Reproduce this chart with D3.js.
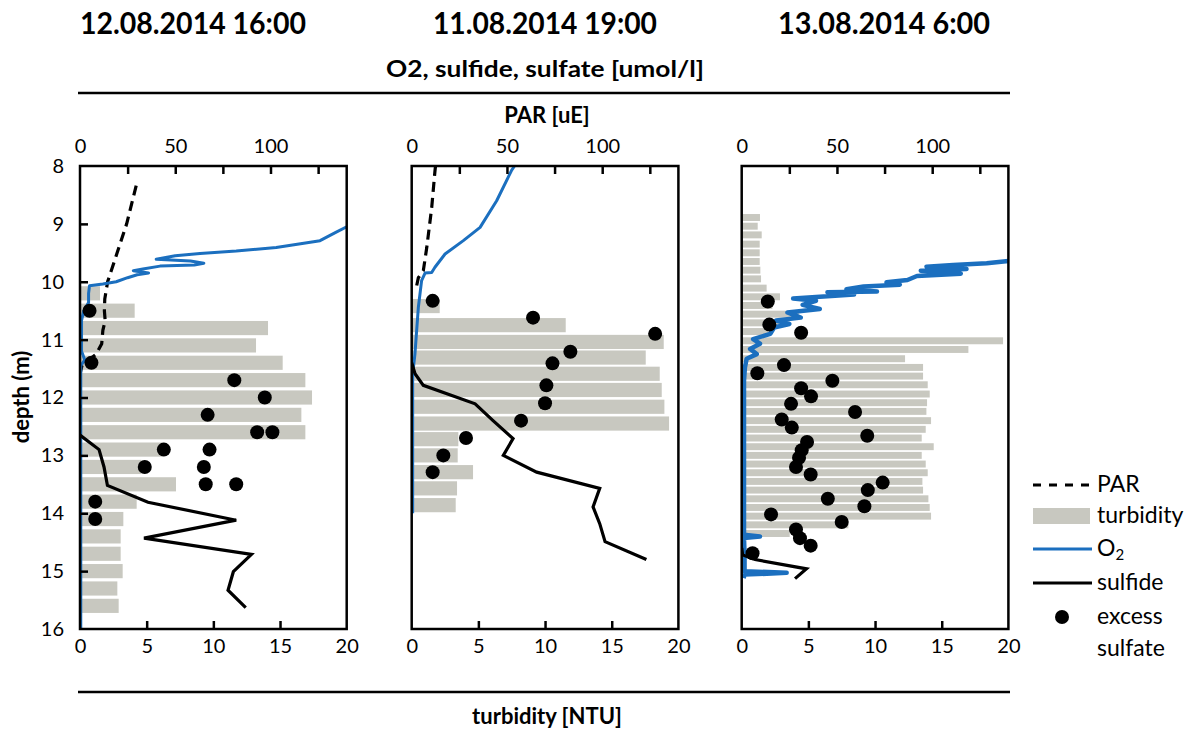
<!DOCTYPE html>
<html><head><meta charset="utf-8">
<script src="https://cdn.jsdelivr.net/npm/d3@7"></script>
<style>
body{margin:0;background:#fff}
svg{display:block}
text{font-family:Lato,"Noto Sans",sans-serif;fill:#000}
</style>
</head><body>
<svg id="c" width="1200" height="729"></svg>
<script>
// ---------- DATA ----------
const titles = ["12.08.2014 16:00", "11.08.2014 19:00", "13.08.2014 6:00"];
const depthTicks = [8, 9, 10, 11, 12, 13, 14, 15, 16];
const topTickLabels = [0, 50, 100];
const topMinorTicks = [25, 50, 75, 100, 125];
const bottomTickLabels = [0, 5, 10, 15, 20];
const bottomMinorTicks = [5, 10, 15];

// panel 1: 12.08.2014 16:00  (depth m, value)
const turb1 = [[10.2,1.5],[10.5,4.1],[10.8,14.1],[11.1,13.2],[11.4,15.2],[11.7,16.9],[12.0,17.4],[12.3,16.6],[12.6,16.9],[12.9,6.2],[13.2,4.6],[13.5,7.2],[13.8,4.25],[14.1,3.25],[14.4,3.05],[14.7,3.05],[15.0,3.2],[15.3,2.8],[15.6,2.9]];
const par1 = [[8.34,29.5],[9.0,24.5],[9.5,19.5],[10.0,14.5],[10.3,13],[10.5,12.8],[10.67,13.2],[10.84,12],[11.07,11.4],[11.25,8.5],[11.45,1],[11.6,0],[12.6,0]];
const o2_1 = [[9.05,140],[9.15,134],[9.29,126],[9.41,103],[9.47,82],[9.51,63],[9.55,50],[9.61,40],[9.64,58],[9.68,65],[9.71,60],[9.73,42],[9.78,33],[9.81,28],[9.85,36],[9.88,30],[9.93,25],[10.0,19],[10.04,12],[10.07,5],[10.2,4.5],[10.36,4.5],[10.5,2],[10.67,0.8],[11.2,0.8],[11.35,2.5],[11.45,0.4],[16,0.4]];
const sulfide1 = [[12.65,0],[12.9,10],[13.2,12.6],[13.52,14.4],[13.81,35.7],[14.12,82],[14.43,33.6],[14.71,90],[15.01,80.5],[15.33,77.7],[15.63,87]];
const sulfate1 = [[10.5,5],[11.4,6],[11.7,81],[12.0,97],[12.3,67],[12.6,93],[12.6,101],[12.9,44],[12.9,68],[13.2,34],[13.2,65],[13.5,66],[13.5,82],[13.8,8],[14.1,8]];

// panel 2: 11.08.2014 19:00
const turb2 = [[10.42,2.1],[10.75,11.55],[11.04,18.9],[11.31,17.55],[11.59,18.6],[11.87,18.75],[12.16,18.95],[12.45,19.3],[12.72,3.5],[13.0,3.45],[13.29,4.6],[13.57,3.4],[13.86,3.3]];
const par2 = [[8.0,12.5],[8.09,12.2],[8.72,10.5],[9.41,7.9],[9.81,6.1],[9.93,3.5],[10.07,2.6],[10.12,2.3]];
const o2_2 = [[8.0,54],[8.07,52.5],[8.6,44.6],[9.06,35.9],[9.29,27.1],[9.52,17.5],[9.75,12.2],[9.84,10.5],[9.85,7],[9.98,5.2],[10.44,3.5],[11.25,1.7],[11.6,0.5],[14.0,0.5]];
const sulfide2 = [[11.4,0],[11.59,1.75],[11.79,6.1],[12.11,33.3],[12.4,42.7],[12.71,53.2],[13.0,48.1],[13.29,65.6],[13.57,98.7],[13.89,95.2],[14.18,98.7],[14.49,101.5],[14.8,123.2]];
const sulfate2 = [[10.33,11],[10.62,63.7],[10.9,127.8],[11.21,83.3],[11.41,73.9],[11.79,70.7],[12.1,70],[12.4,57.4],[12.7,28.5],[13.0,16.6],[13.29,11]];

// panel 3: 13.08.2014 6:00
const turb3 = [[8.89,1.37],[9.04,1.2],[9.19,1.5],[9.35,1.35],[9.50,1.35],[9.65,1.35],[9.80,1.4],[9.95,1.45],[10.11,1.87],[10.26,2.87],[10.41,2.3],[10.56,4.3],[10.71,3.47],[10.86,2.0],[11.02,19.6],[11.17,17.0],[11.33,12.25],[11.48,13.6],[11.63,13.6],[11.78,13.95],[11.94,14.1],[12.09,13.9],[12.24,13.85],[12.40,14.2],[12.55,13.8],[12.70,13.5],[12.85,14.4],[13.00,13.5],[13.15,13.8],[13.30,13.95],[13.45,13.55],[13.60,13.6],[13.75,14.0],[13.90,14.1],[14.05,14.2],[14.20,8.0],[14.35,3.6]];
const par3 = [];
const o2_3 = [[9.64,140],[9.68,128.6],[9.71,111],[9.74,97],[9.78,118],[9.81,94],[9.86,115],[9.9,92],[9.97,87],[10.01,76],[10.05,83],[10.08,64],[10.13,55],[10.17,71],[10.18,45],[10.22,59],[10.26,41],[10.29,27],[10.33,39],[10.4,32],[10.47,41],[10.53,24],[10.62,31],[10.67,18],[10.73,25],[10.79,17],[10.9,15],[10.99,6],[11.07,9.6],[11.16,4.4],[11.25,7.9],[11.33,2.6],[11.48,1.7],[11.71,1.2],[14.37,1.2],[14.4,9.6],[14.43,1.2],[14.7,1.5],[15.0,1.5],[15.03,23.6],[15.06,1.5],[15.12,1]];
const sulfide3 = [[14.6,0],[14.72,0.5],[14.8,7],[14.96,34],[15.13,28]];
const sulfate3 = [[10.34,13.7],[10.74,14.5],[10.88,31.2],[11.44,22.2],[11.58,8.2],[11.71,47.6],[11.84,31.2],[11.98,36.4],[12.11,25.9],[12.25,59.5],[12.38,21],[12.52,26.3],[12.66,65.9],[12.77,34.3],[12.91,31.5],[13.04,30.1],[13.2,28.5],[13.33,36.2],[13.47,74],[13.6,66.2],[13.75,45.2],[13.88,64.4],[14.02,15.4],[14.15,52.5],[14.28,28.5],[14.43,30.6],[14.56,36.2],[14.69,5.7]];

const legendItems = ["PAR", "turbidity", "O2", "sulfide", "excess", "sulfate"];

// ---------- DRAW ----------
const panels = [
  {turb: turb1, par: par1, o2: o2_1, sulfide: sulfide1, sulfate: sulfate1, bh: 0.245, o2w: 3},
  {turb: turb2, par: par2, o2: o2_2, sulfide: sulfide2, sulfate: sulfate2, bh: 0.245, o2w: 3},
  {turb: turb3, par: par3, o2: o2_3, sulfide: sulfide3, sulfate: sulfate3, bh: 0.12, o2w: 4.5}
];
const panelX = [80, 411.7, 741.7];
const titleX = [193, 545, 884];
const titleLen = [226, 224, 212];
const PW = 266.7, PT = 166, PB = 629;
const BLUE = "#1b6fbf", GREY = "#c8c8c0";

const svg = d3.select("#c");
const y = d3.scaleLinear().domain([8, 16]).range([PT, PB]);

panels.forEach((p, i) => {
  const x0 = panelX[i];
  const xT = d3.scaleLinear().domain([0, 140]).range([x0, x0 + PW]);
  const xB = d3.scaleLinear().domain([0, 20]).range([x0, x0 + PW]);
  const g = svg.append("g");

  g.append("clipPath").attr("id", "clip" + i).append("rect")
    .attr("x", x0).attr("y", PT).attr("width", PW).attr("height", PB - PT);

  const inner = g.append("g").attr("clip-path", `url(#clip${i})`);

  inner.selectAll("rect.bar").data(p.turb).join("rect").attr("class", "bar")
    .attr("x", x0)
    .attr("y", d => y(d[0] - p.bh / 2))
    .attr("width", d => xB(d[1]) - x0)
    .attr("height", d => y(d[0] + p.bh / 2) - y(d[0] - p.bh / 2))
    .attr("fill", GREY);

  const line = d3.line().x(d => xT(d[1])).y(d => y(d[0]));
  if (p.par.length)
    inner.append("path").attr("d", line(p.par)).attr("fill", "none")
      .attr("stroke", "#000").attr("stroke-width", 3.2).attr("stroke-dasharray", "10,6");
  inner.append("path").attr("d", line(p.o2)).attr("fill", "none")
    .attr("stroke", BLUE).attr("stroke-width", p.o2w).attr("stroke-linejoin", "round");
  inner.append("path").attr("d", line(p.sulfide)).attr("fill", "none")
    .attr("stroke", "#000").attr("stroke-width", 3.2).attr("stroke-linejoin", "miter");

  inner.selectAll("circle").data(p.sulfate).join("circle")
    .attr("cx", d => xT(d[1])).attr("cy", d => y(d[0])).attr("r", 7).attr("fill", "#000");

  // frame
  g.append("rect").attr("x", x0).attr("y", PT).attr("width", PW).attr("height", PB - PT)
    .attr("fill", "none").attr("stroke", "#000").attr("stroke-width", 2.5);

  // top axis ticks (inward) and labels
  const topTicks = g.append("g").attr("transform", `translate(0,${PT})`)
    .call(d3.axisTop(xT).tickValues(topMinorTicks).tickSize(-8).tickFormat(""));
  const topLab = g.append("g").attr("transform", `translate(0,${PT})`)
    .call(d3.axisTop(xT).tickValues(topTickLabels).tickSize(0).tickPadding(13));
  const botTicks = g.append("g").attr("transform", `translate(0,${PB})`)
    .call(d3.axisBottom(xB).tickValues(bottomMinorTicks).tickSize(-8).tickFormat(""));
  const botLab = g.append("g").attr("transform", `translate(0,${PB})`)
    .call(d3.axisBottom(xB).tickValues(bottomTickLabels).tickSize(0).tickPadding(10));
  [topTicks, topLab, botTicks, botLab].forEach(a => {
    a.select(".domain").remove();
    a.selectAll("line").attr("stroke", "#000").attr("stroke-width", 2.5);
    a.selectAll("text").attr("font-size", 20).attr("font-family", "Lato").attr("fill", "#000");
  });

  if (i === 0) {
    const lt = g.append("g").attr("transform", `translate(${x0},0)`)
      .call(d3.axisLeft(y).tickValues(depthTicks.slice(1, -1)).tickSize(-8).tickFormat(""));
    const ll = g.append("g").attr("transform", `translate(${x0},0)`)
      .call(d3.axisLeft(y).tickValues(depthTicks).tickSize(0).tickPadding(16));
    [lt, ll].forEach(a => {
      a.select(".domain").remove();
      a.selectAll("line").attr("stroke", "#000").attr("stroke-width", 2.5);
      a.selectAll("text").attr("font-size", 20).attr("font-family", "Lato").attr("fill", "#000");
    });
  }

  // title
  svg.append("text").attr("x", titleX[i]).attr("y", 34)
    .attr("text-anchor", "middle").attr("font-size", 30).attr("font-weight", "bold")
    .attr("textLength", titleLen[i]).attr("lengthAdjust", "spacingAndGlyphs")
    .text(titles[i]);
});

// header / footer
svg.append("text").attr("x", 545).attr("y", 77).attr("text-anchor", "middle")
  .attr("font-size", 23).attr("font-weight", "bold")
  .attr("textLength", 318).attr("lengthAdjust", "spacingAndGlyphs")
  .text("O2, sulfide, sulfate [umol/l]");
svg.append("line").attr("x1", 78).attr("x2", 1010).attr("y1", 93).attr("y2", 93)
  .attr("stroke", "#000").attr("stroke-width", 2.5);
svg.append("text").attr("x", 547).attr("y", 123).attr("text-anchor", "middle")
  .attr("font-size", 22).attr("font-weight", "bold").text("PAR [uE]");
svg.append("line").attr("x1", 78).attr("x2", 1010).attr("y1", 692).attr("y2", 692)
  .attr("stroke", "#000").attr("stroke-width", 2.5);
svg.append("text").attr("x", 547).attr("y", 724).attr("text-anchor", "middle")
  .attr("font-size", 22).attr("font-weight", "bold").text("turbidity [NTU]");
svg.append("text").attr("transform", "translate(29,397) rotate(-90)").attr("text-anchor", "middle")
  .attr("font-size", 22).attr("font-weight", "bold").text("depth (m)");

// legend
const L = svg.append("g");
const lx1 = 1033, lx2 = 1092, tx = 1097;
const ly = [485, 516, 549, 583, 617, 649];
L.append("line").attr("x1", lx1).attr("x2", lx2).attr("y1", ly[0]).attr("y2", ly[0])
  .attr("stroke", "#000").attr("stroke-width", 3).attr("stroke-dasharray", "8,8");
L.append("rect").attr("x", lx1).attr("y", ly[1] - 8).attr("width", lx2 - lx1 - 2).attr("height", 16).attr("fill", GREY);
L.append("line").attr("x1", lx1).attr("x2", lx2).attr("y1", ly[2]).attr("y2", ly[2])
  .attr("stroke", BLUE).attr("stroke-width", 3);
L.append("line").attr("x1", lx1).attr("x2", lx2).attr("y1", ly[3]).attr("y2", ly[3])
  .attr("stroke", "#000").attr("stroke-width", 3);
L.append("circle").attr("cx", 1062).attr("cy", ly[4]).attr("r", 7).attr("fill", "#000");
legendItems.forEach((t, k) => {
  const txt = L.append("text").attr("x", tx).attr("y", ly[k] + 7).attr("font-size", 23);
  if (t === "O2") {
    txt.append("tspan").text("O");
    txt.append("tspan").attr("font-size", 15).attr("dy", 4).text("2");
  } else txt.text(t);
});
</script>
</body></html>
